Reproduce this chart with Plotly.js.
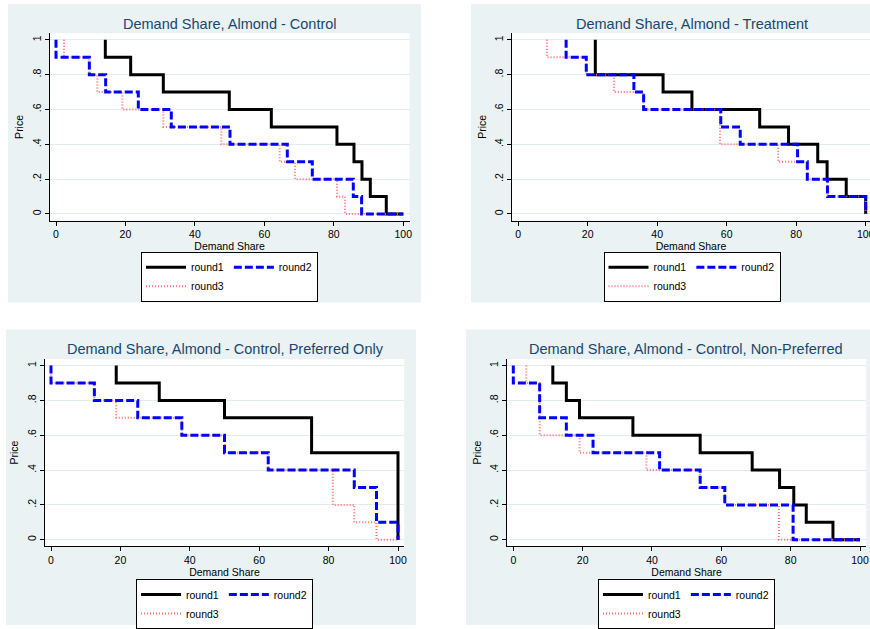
<!DOCTYPE html>
<html>
<head>
<meta charset="utf-8">
<script src="https://cdn.plot.ly/plotly-3.0.1.min.js"></script>
<style>html,body{margin:0;padding:0;background:#fff;}#chart{width:870px;height:629px;}</style>
</head>
<body>
<div id="chart"></div>
<script>
// ---- data ----
const prices = [1, 0.9, 0.8, 0.7, 0.6, 0.5, 0.4, 0.3, 0.2, 0.1, 0];
const priceTickVals = [0, 0.2, 0.4, 0.6, 0.8, 1];
const priceTickText = ['0', '.2', '.4', '.6', '.8', '1'];
const shareTickVals = [0, 20, 40, 60, 80, 100];
const shareTickText = ['0', '20', '40', '60', '80', '100'];
const seriesNames = ['round1', 'round2', 'round3'];
const panelTitles = [
  'Demand Share, Almond - Control',
  'Demand Share, Almond - Treatment',
  'Demand Share, Almond - Control, Preferred Only',
  'Demand Share, Almond - Control, Non-Preferred'
];
const xTitle = 'Demand Share';
const yTitle = 'Price';

// demand share (%) at each price level
const controlRound1 = [14.2, 21.5, 30.9, 49.9, 62.0, 80.9, 85.8, 88.1, 90.5, 95.1, 100];
const controlRound2 = [0, 9.6, 14.3, 23.7, 33.2, 50.1, 66.6, 73.8, 85.6, 88.0, 100];
const controlRound3 = [2.3, 9.6, 11.9, 19.1, 30.9, 47.6, 64.4, 68.8, 80.9, 83.2, 100];

const treatRound1 = [22.2, 22.2, 41.7, 50.0, 69.5, 77.8, 86.2, 88.9, 94.4, 100, 100];
const treatRound2 = [13.8, 19.6, 33.3, 36.1, 58.3, 63.9, 80.4, 83.2, 89.0, 100, 100];
const treatRound3 = [8.3, 19.6, 27.6, 36.1, 58.1, 58.1, 74.8, 83.2, 89.0, 100, 100];

const prefRound1 = [18.8, 31.2, 50.0, 75.1, 75.1, 100, 100, 100, 100, 100, 100];
const prefRound2 = [0, 12.5, 25.0, 37.7, 50.0, 62.6, 87.4, 93.8, 93.8, 100, 100];
const prefRound3 = [0, 12.5, 18.8, 37.7, 50.0, 62.6, 81.2, 81.2, 87.4, 93.8, 100];

const nonPrefRound1 = [11.4, 15.3, 19.1, 34.5, 53.9, 68.9, 76.8, 80.9, 84.5, 92.2, 100];
const nonPrefRound2 = [0, 7.6, 7.6, 15.3, 23.0, 42.2, 53.9, 61.0, 80.7, 80.7, 100];
const nonPrefRound3 = [3.75, 7.6, 7.6, 7.6, 19.1, 38.4, 53.9, 61.0, 76.6, 76.6, 100];

const panels = [
  [controlRound1, controlRound2, controlRound3],
  [treatRound1, treatRound2, treatRound3],
  [prefRound1, prefRound2, prefRound3],
  [nonPrefRound1, nonPrefRound2, nonPrefRound3]
];

// ---- styles / layout ----
const W = 870, H = 629;
const FONT = 'Liberation Sans, Arial, sans-serif';
const bgColor = '#EAF2F3';
const gridColor = '#E3ECEE';
const titleColor = '#1A476F';
const lineStyles = [
  {color: '#000000', width: 3, dash: 'solid'},
  {color: '#0000FF', width: 3, dash: '8px,3px'},
  {color: '#FF6F6F', width: 2, dash: '1px,2px'}
];
// panel geometry in pixels
const geo = [
  {bg: [8, 4, 421, 304], dom: [49.75, 409.55, 33.35, 221.65], xr: [-1.8, 101.8], title: [229.5, 24], leg: [229.5, 253]},
  {bg: [471, 4, 870, 304], dom: [511.9, 870, 33.35, 221.65], xr: [-1.8, 101.24], title: [692, 24], leg: [692, 253]},
  {bg: [6, 331, 416, 628], dom: [44.75, 404.25, 360.65, 548.95], xr: [-1.8, 101.8], title: [225, 351], leg: [224.5, 582]},
  {bg: [466, 331, 870, 628], dom: [507.06, 866.24, 360.65, 548.95], xr: [-1.8, 101.8], title: [686, 351], leg: [686.5, 582]}
];
// draw order: round1, round3, round2 (blue on top); legend groups give round1/round3 column + round2 column
const drawOrder = [0, 2, 1];

const traces = [];
const layout = {
  width: W, height: H,
  margin: {l: 0, r: 0, t: 0, b: 0},
  paper_bgcolor: '#ffffff',
  plot_bgcolor: '#ffffff',
  font: {family: FONT, size: 10.5, color: '#000'},
  showlegend: true,
  shapes: [],
  annotations: []
};

panels.forEach((series, p) => {
  const n = p + 1;
  const xa = 'x' + (n === 1 ? '' : n);
  const ya = 'y' + (n === 1 ? '' : n);
  const legName = 'legend' + (n === 1 ? '' : n);
  const g = geo[p];
  drawOrder.forEach(si => {
    traces.push({
      x: series[si], y: prices,
      type: 'scatter', mode: 'lines',
      line: Object.assign({shape: 'vh'}, lineStyles[si]),
      name: seriesNames[si],
      xaxis: xa, yaxis: ya,
      legend: legName,
      legendgroup: 'p' + n + (si === 1 ? 'b' : 'a'),
      hoverinfo: 'x+y+name'
    });
  });
  layout['xaxis' + (n === 1 ? '' : n)] = {
    domain: [g.dom[0] / W, g.dom[1] / W],
    anchor: ya,
    range: g.xr,
    tickmode: 'array', tickvals: shareTickVals, ticktext: shareTickText,
    ticks: 'outside', ticklen: 4, tickcolor: '#000', tickwidth: 1,
    ticklabeloverflow: 'allow',
    showline: true, linecolor: '#000', linewidth: 1,
    showgrid: false, zeroline: false,
    tickfont: {family: FONT, size: 10.5, color: '#000'},
    title: {text: xTitle, font: {family: FONT, size: 10.5, color: '#000'}, standoff: 0},
    automargin: false, fixedrange: true
  };
  layout['yaxis' + (n === 1 ? '' : n)] = {
    domain: [1 - g.dom[3] / H, 1 - g.dom[2] / H],
    anchor: xa,
    range: [-0.038, 1.038],
    tickmode: 'array', tickvals: priceTickVals, ticktext: priceTickText,
    tickangle: -90,
    ticks: 'outside', ticklen: 4, tickcolor: '#000', tickwidth: 1,
    showline: true, linecolor: '#000', linewidth: 1,
    showgrid: true, gridcolor: gridColor, gridwidth: 1,
    zeroline: false,
    tickfont: {family: FONT, size: 10.5, color: '#000'},
    title: {text: yTitle, font: {family: FONT, size: 10.5, color: '#000'}, standoff: 4},
    automargin: false, fixedrange: true
  };
  layout.shapes.push({
    type: 'rect', xref: 'paper', yref: 'paper', layer: 'below',
    x0: g.bg[0] / W, x1: g.bg[2] / W, y0: 1 - g.bg[3] / H, y1: 1 - g.bg[1] / H,
    fillcolor: bgColor, line: {width: 0}
  });
  layout.shapes.push({
    type: 'rect', xref: xa + ' domain', yref: ya + ' domain', layer: 'below',
    x0: 0, x1: 1, y0: 0, y1: 1,
    fillcolor: '#ffffff', line: {width: 0}
  });
  layout.annotations.push({
    text: panelTitles[p], xref: 'paper', yref: 'paper',
    x: g.title[0] / W, y: 1 - g.title[1] / H, xanchor: 'center', yanchor: 'middle',
    showarrow: false, font: {family: FONT, size: 14.5, color: titleColor}
  });
  layout[legName] = {
    orientation: 'h', traceorder: 'grouped',
    x: g.leg[0] / W, xanchor: 'center', xref: 'paper',
    y: 1 - g.leg[1] / H, yanchor: 'top', yref: 'paper',
    bgcolor: '#ffffff', bordercolor: '#000', borderwidth: 1,
    font: {family: FONT, size: 10.5, color: '#000'},
    itemwidth: 40, tracegroupgap: 4
  };
});

Plotly.newPlot('chart', traces, layout, {displayModeBar: false, staticPlot: true});
</script>
</body>
</html>
